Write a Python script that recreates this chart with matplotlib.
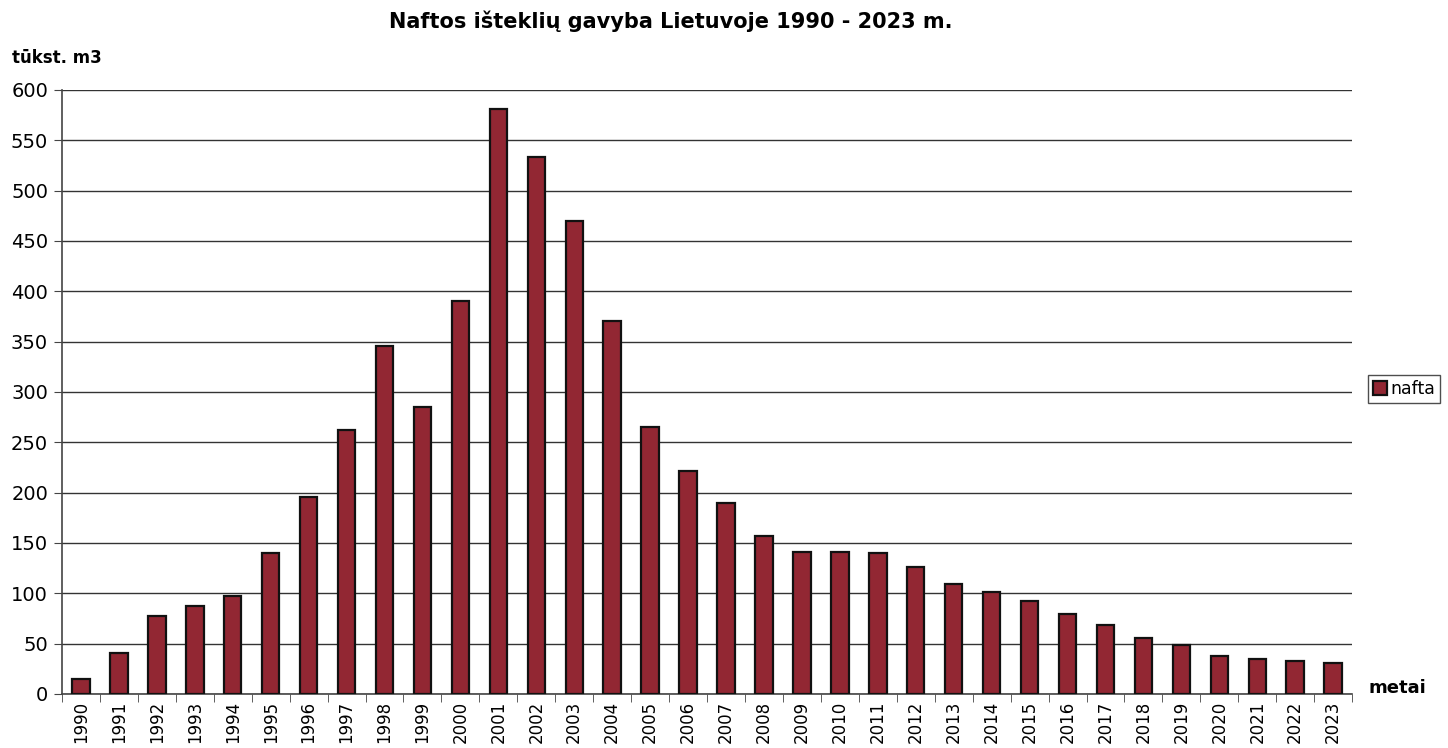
import matplotlib
matplotlib.use("Agg")
import matplotlib.pyplot as plt
import numpy as np

plt.rcParams['font.family'] = ['DejaVu Sans']

years = [str(y) for y in range(1990, 2024)]
nafta = [15, 41, 77, 87, 97, 140, 196, 262, 346, 285,
         390, 581, 533, 470, 371, 265, 222, 190, 157, 141,
         141, 140, 126, 109, 101, 92, 79, 69, 56, 49,
         38, 35, 33, 31]

fig = plt.figure(figsize=(14.48, 7.48), dpi=100)
ax = fig.add_axes([0.0428, 0.0722, 0.891, 0.8075])

x = np.arange(len(years))
ax.bar(x, nafta, width=0.46, color='#922733', edgecolor='#111111',
       linewidth=1.6, label='nafta', zorder=3)

ax.set_xlim(-0.5, len(years) - 0.5)
ax.set_ylim(0, 600)
ax.set_yticks(np.arange(0, 601, 50))
ax.yaxis.grid(True, color='#333333', linewidth=1.0, zorder=0)
ax.tick_params(axis='y', labelsize=14, length=6, color='#444444', pad=4)

ax.set_xticks(x)
ax.set_xticklabels(years, rotation=90, fontsize=12)
ax.set_xticks(np.arange(-0.5, len(years), 1), minor=True)
ax.tick_params(axis='x', which='major', length=0, pad=5)
ax.tick_params(axis='x', which='minor', length=6, color='#444444')

for s in ['top', 'right']:
    ax.spines[s].set_visible(False)
for s in ['left', 'bottom']:
    ax.spines[s].set_color('#444444')
    ax.spines[s].set_linewidth(1.2)

fig.text(0.463, 0.972, 'Naftos išteklių gavyba Lietuvoje 1990 - 2023 m.',
         ha='center', va='center', fontsize=15, fontweight='bold')
fig.text(0.008, 0.922, 'tūkst. m3', ha='left', va='center',
         fontsize=12, fontweight='bold')
fig.text(0.945, 0.080, 'metai', ha='left', va='center',
         fontsize=13, fontweight='bold')

leg = ax.legend(loc='center left', bbox_to_anchor=(1.012, 0.505), fontsize=12.5,
                frameon=True, fancybox=False, handlelength=0.8,
                handleheight=0.8, handletextpad=0.2, borderpad=0.3,
                borderaxespad=0)
leg.get_frame().set_edgecolor('#222222')
leg.get_frame().set_linewidth(1.0)

fig.savefig('out.png', dpi=100)
